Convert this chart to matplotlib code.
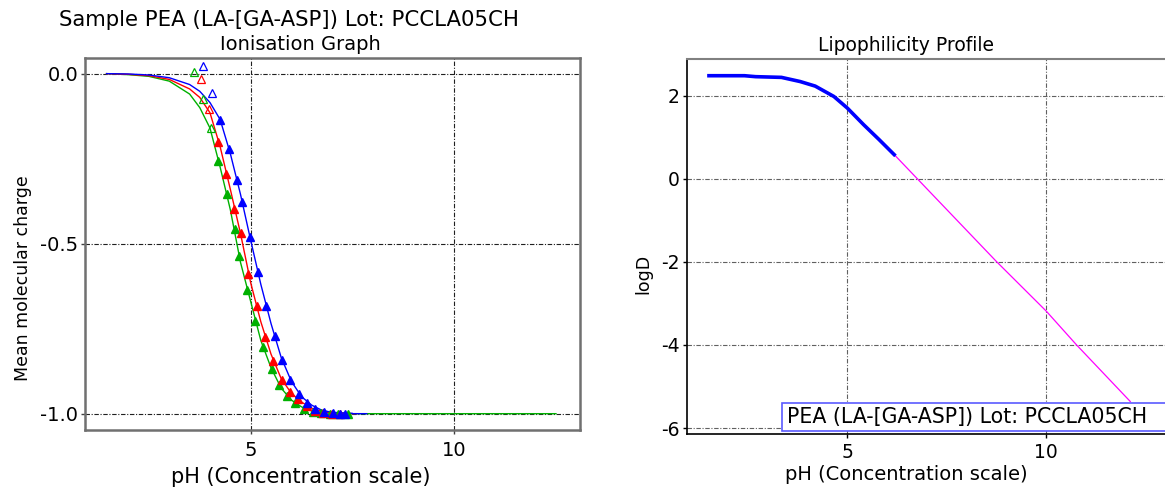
import matplotlib
matplotlib.use('Agg')
import matplotlib.pyplot as plt
from matplotlib.patches import Rectangle

plt.rcParams['font.family'] = ['DejaVu Sans']
plt.rcParams['axes.unicode_minus'] = False

# ionisation graph - fitted curves (pH, mean molecular charge)
curve_ph = [1.46, 2.0, 2.5, 3.0, 3.5, 3.75, 4.0, 4.25, 4.5, 4.75, 5.0, 5.25, 5.5,
            5.75, 6.0, 6.25, 6.5, 6.75, 7.0, 7.5]
blue_curve = [0.0, -0.001, -0.004, -0.012, -0.032, -0.052, -0.085, -0.135, -0.235,
              -0.355, -0.49, -0.62, -0.735, -0.835, -0.905, -0.95, -0.975, -0.99,
              -0.996, -0.999]
red_curve = [0.0, -0.002, -0.006, -0.017, -0.045, -0.07, -0.115, -0.215, -0.34,
             -0.47, -0.615, -0.73, -0.825, -0.897, -0.94, -0.966, -0.984, -0.993,
             -0.998, -1.0]
green_curve = [0.0, -0.003, -0.008, -0.022, -0.06, -0.1, -0.16, -0.275, -0.40,
               -0.555, -0.67, -0.785, -0.865, -0.925, -0.96, -0.98, -0.992, -0.996,
               -0.998, -1.0]
blue_tail_ph = [7.5, 7.85]
red_tail_ph = [7.5, 7.6]
green_tail_ph = [7.5, 12.5]
tail_charge = [-1.0, -1.0]

# measured points (open = excluded from fit)
blue_open_ph = [3.84, 4.05]
blue_open_q = [0.022, -0.056]
blue_ph = [4.25, 4.46, 4.66, 4.79, 4.98, 5.18, 5.38, 5.59, 5.77, 5.97, 6.18, 6.38,
           6.58, 6.80, 7.02, 7.19, 7.32]
blue_q = [-0.135, -0.222, -0.313, -0.377, -0.48, -0.583, -0.684, -0.771, -0.843,
          -0.90, -0.941, -0.968, -0.985, -0.994, -0.998, -1.0, -1.0]
red_open_ph = [3.79, 3.98]
red_open_q = [-0.017, -0.105]
red_ph = [4.20, 4.39, 4.60, 4.75, 4.94, 5.15, 5.36, 5.56, 5.76, 5.97, 6.17, 6.38,
          6.58, 6.78, 6.99, 7.19]
red_q = [-0.20, -0.296, -0.397, -0.47, -0.59, -0.684, -0.774, -0.845, -0.90, -0.936,
         -0.958, -0.978, -0.992, -0.998, -1.0, -1.0]
green_open_ph = [3.60, 3.82, 4.02]
green_open_q = [0.005, -0.076, -0.161]
green_ph = [4.20, 4.41, 4.61, 4.71, 4.92, 5.10, 5.30, 5.52, 5.70, 5.90, 6.10, 6.31,
            6.52, 6.73, 6.95, 7.15, 7.40]
green_q = [-0.256, -0.355, -0.458, -0.537, -0.635, -0.727, -0.805, -0.87, -0.916,
           -0.949, -0.970, -0.985, -0.994, -0.998, -1.0, -1.0, -1.0]

# lipophilicity profile
logd_ph = [1.47, 2.41, 2.69, 3.34, 3.81, 4.19, 4.66, 5.0, 5.41, 5.79, 6.21]
logd = [2.48, 2.48, 2.457, 2.44, 2.34, 2.23, 1.98, 1.70, 1.30, 0.95, 0.55]
extrap_ph = [6.21, 6.77, 8.75, 10.01, 10.76, 12.12]
extrap_logd = [0.55, -0.01, -1.99, -3.19, -3.99, -5.36]

W, H = 1165, 488
fig = plt.figure(figsize=(W / 100, H / 100), dpi=100)

def px_axes(x0, y0, x1, y1):
    return fig.add_axes([x0 / W, (H - y1) / H, (x1 - x0) / W, (y1 - y0) / H])

grid_style = dict(linestyle=(0, (4, 1.5, 1, 1.5)), linewidth=0.8)
green = '#00b000'
fs = 14

# ---- left: ionisation graph
ax1 = px_axes(85, 58, 580, 430)
ax1.set_xlim(0.93, 13.09)
ax1.set_ylim(-1.048, 0.046)
ax1.set_xticks([5, 10])
ax1.set_yticks([0.0, -0.5, -1.0])
ax1.set_yticklabels(['0.0', '-0.5', '-1.0'])
ax1.grid(True, color='#202020', **grid_style)
ax1.tick_params(length=3, width=1, color='#404040', labelsize=fs)
ax1.tick_params(axis='y', pad=2)
ax1.tick_params(axis='x', pad=5)
for s in ax1.spines.values():
    s.set_color('#707070')
    s.set_linewidth(1.8)

ax1.plot(curve_ph + green_tail_ph, green_curve + tail_charge, color=green, lw=1)
ax1.plot(curve_ph + red_tail_ph, red_curve + tail_charge, color='red', lw=1)
ax1.plot(curve_ph + blue_tail_ph, blue_curve + tail_charge, color='blue', lw=1)
for ph, q, oph, oq, c in [(green_ph, green_q, green_open_ph, green_open_q, green),
                          (red_ph, red_q, red_open_ph, red_open_q, 'red'),
                          (blue_ph, blue_q, blue_open_ph, blue_open_q, 'blue')]:
    ax1.plot(ph, q, '^', color=c, ms=6, ls='none')
    ax1.plot(oph, oq, '^', mfc='none', mec=c, mew=0.9, ms=6, ls='none')

fig.text(289 / W, 1 - 20 / H, 'Sample PEA (LA-[GA-ASP]) Lot: PCCLA05CH',
         ha='center', va='center', fontsize=15.3)
fig.text(300 / W, 1 - 44 / H, 'Ionisation Graph', ha='center', va='center', fontsize=fs)
fig.text(301 / W, 1 - 477 / H, 'pH (Concentration scale)', ha='center', va='center',
         fontsize=15)
fig.text(23 / W, 1 - 278 / H, 'Mean molecular charge', ha='center', va='center',
         rotation=90, fontsize=12.5)

# ---- right: lipophilicity profile
ax2 = px_axes(686.5, 59.3, 1168.8, 433.5)
ax2.set_xlim(0.95, 13.09)
ax2.set_ylim(-6.13, 2.875)
ax2.set_xticks([5, 10])
ax2.set_yticks([2, 0, -2, -4, -6])
ax2.grid(True, color='#606060', **grid_style)
ax2.tick_params(length=3, width=1, labelsize=13.5)
ax2.tick_params(axis='y', pad=2)
ax2.tick_params(axis='x', pad=3.5)
ax2.spines['right'].set_visible(False)
ax2.spines['top'].set_color('#808080')
ax2.spines['top'].set_linewidth(1.5)
ax2.spines['left'].set_linewidth(1.2)
ax2.spines['bottom'].set_linewidth(1.2)

ax2.plot(extrap_ph, extrap_logd, color='#ff00ff', lw=0.9)
ax2.plot(logd_ph, logd, color='blue', lw=2.6, solid_capstyle='butt')
box_x0, box_y0, box_y1 = 0.1975, 0.0067, 0.082
ax2.add_patch(Rectangle((box_x0, box_y0), 1.05 - box_x0, box_y1 - box_y0,
                        transform=ax2.transAxes, fc='white', ec='#5a5aff', lw=1.2,
                        clip_on=False, zorder=4))
ax2.text(box_x0 + 0.01, (box_y0 + box_y1) / 2, 'PEA (LA-[GA-ASP]) Lot: PCCLA05CH',
         transform=ax2.transAxes, ha='left', va='center', fontsize=14.8, zorder=5)

fig.text(906 / W, 1 - 46 / H, 'Lipophilicity Profile', ha='center', va='center',
         fontsize=13.5)
fig.text(906 / W, 1 - 475 / H, 'pH (Concentration scale)', ha='center', va='center',
         fontsize=14)
fig.text(643 / W, 1 - 274 / H, 'logD', ha='center', va='center', rotation=90,
         fontsize=12.5)

fig.savefig('out.png', dpi=100)
